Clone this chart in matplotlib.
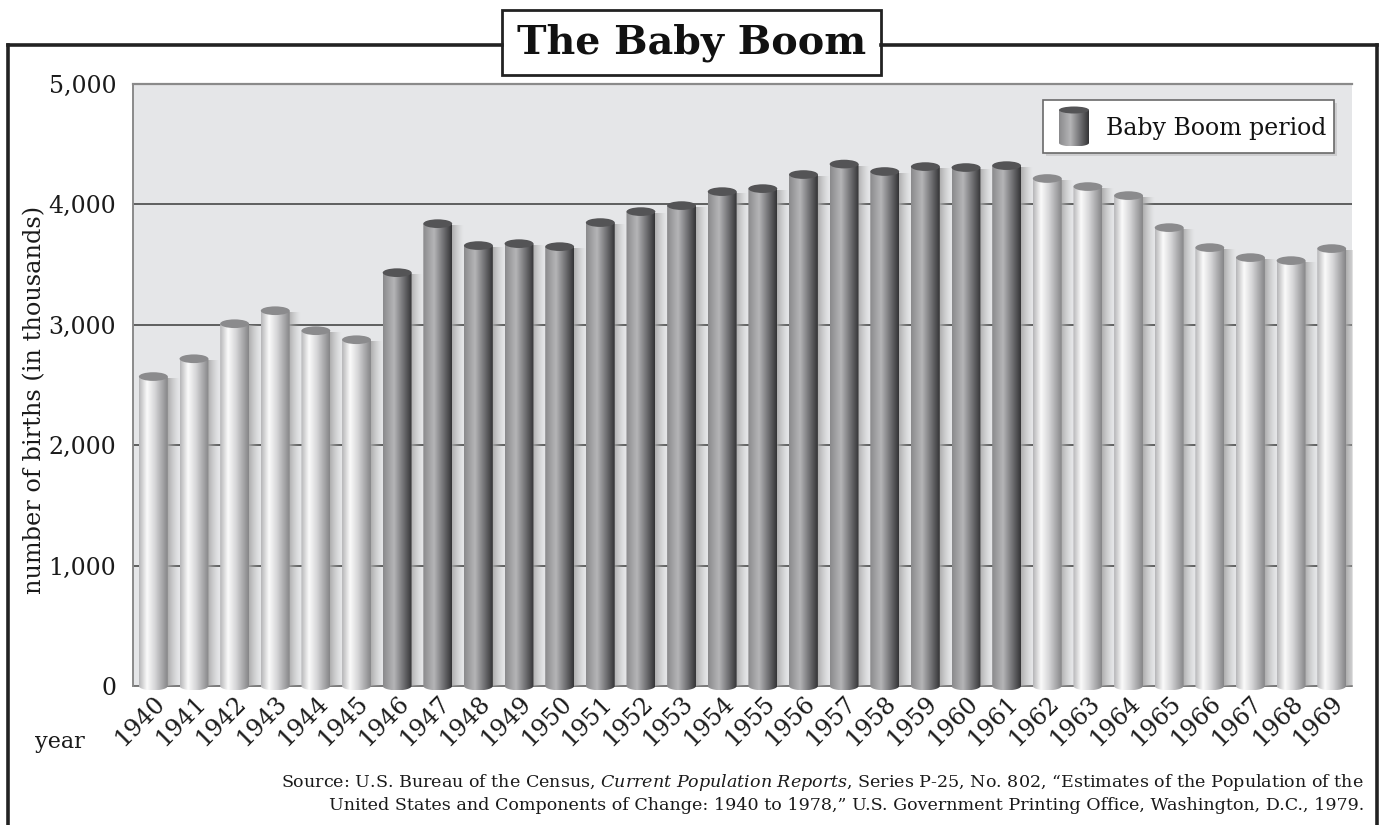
import numpy as np
import matplotlib
matplotlib.use("Agg")
import matplotlib.pyplot as plt
import matplotlib.transforms as mtransforms
from matplotlib.patches import Ellipse, Rectangle, PathPatch
from matplotlib.path import Path
from matplotlib.colors import LinearSegmentedColormap

# ---- data -------------------------------------------------------------
years = [1940, 1941, 1942, 1943, 1944, 1945, 1946, 1947, 1948, 1949,
         1950, 1951, 1952, 1953, 1954, 1955, 1956, 1957, 1958, 1959,
         1960, 1961, 1962, 1963, 1964, 1965, 1966, 1967, 1968, 1969]
births = [2570, 2718, 3009, 3117, 2951, 2876, 3433, 3840, 3658, 3674,
          3649, 3849, 3940, 3990, 4106, 4131, 4248, 4335, 4273, 4314,
          4306, 4322, 4215, 4148, 4073, 3807, 3641, 3558, 3533, 3633]
boom_first, boom_last = 1946, 1961
y_ticks = [0, 1000, 2000, 3000, 4000, 5000]
y_ticklabels = ["0", "1,000", "2,000", "3,000", "4,000", "5,000"]

title = "The Baby Boom"
legend_label = "Baby Boom period"
y_title = "number of births (in thousands)"
x_title = "year"
source_line1 = ("Source: U.S. Bureau of the Census, $\\mathit{Current\\ Population\\ Reports}$, "
                "Series P-25, No. 802, \u201cEstimates of the Population of the")
source_line2 = ("United States and Components of Change: 1940 to 1978,\u201d "
                "U.S. Government Printing Office, Washington, D.C., 1979.")

# ---- style ------------------------------------------------------------
SERIF = "DejaVu Serif"
plt.rcParams["font.family"] = [SERIF]
plt.rcParams["mathtext.fontset"] = "custom"
plt.rcParams["mathtext.rm"] = SERIF
plt.rcParams["mathtext.it"] = SERIF + ":italic"

W, H, DPI = 1380, 825, 100
fig = plt.figure(figsize=(W / DPI, H / DPI), dpi=DPI)
fig.patch.set_facecolor("white")

ax_l, ax_r, ax_t, ax_b = 133, 1352, 84, 686
ax = fig.add_axes([ax_l / W, 1 - ax_b / H, (ax_r - ax_l) / W, (ax_b - ax_t) / H])
ax.set_facecolor("#e5e6e8")

light_cmap = LinearSegmentedColormap.from_list(
    "light_cyl", [(0.0, "#b5b5b7"), (0.28, "#fbfbfb"), (0.55, "#d6d6d8"), (1.0, "#848486")])
dark_cmap = LinearSegmentedColormap.from_list(
    "dark_cyl", [(0.0, "#8a8a8c"), (0.38, "#b5b5b7"), (0.7, "#727275"), (1.0, "#333335")])

bar_w = 0.71
cap = 36.0          # half-height of the cylinder ends, in data units
grad = np.linspace(0, 1, 256)[None, :]

# shadow gradient (RGBA) cast to the right of each cylinder
shadow = np.zeros((1, 64, 4))
shadow[..., :3] = 0.66
shadow[0, :, 3] = np.linspace(1.0, 0.0, 64) ** 1.4

n = len(years)
xs = np.arange(n)
for i, (yr, val) in enumerate(zip(years, births)):
    boom = boom_first <= yr <= boom_last
    x0, x1 = xs[i] - bar_w / 2, xs[i] + bar_w / 2

    # soft shadow
    ax.imshow(shadow, extent=(x1 - 0.03, x1 + 0.28, 0, val - cap * 0.5),
              aspect="auto", origin="lower", zorder=2.5, interpolation="bilinear")

    # cylinder body with rounded base
    t = np.linspace(np.pi, 2 * np.pi, 40)
    verts = [(x0, val), (x0, 0)]
    verts += list(zip(xs[i] + (bar_w / 2) * np.cos(t), cap * np.sin(t)))
    verts += [(x1, val), (x0, val)]
    codes = [Path.MOVETO] + [Path.LINETO] * (len(verts) - 2) + [Path.CLOSEPOLY]
    clip = PathPatch(Path(verts, codes), transform=ax.transData)
    im = ax.imshow(grad, cmap=dark_cmap if boom else light_cmap,
                   extent=(x0, x1, -cap, val), aspect="auto", origin="lower",
                   zorder=3, interpolation="bilinear")
    im.set_clip_path(clip)
    im.set_clip_box(fig.bbox)

    # top cap
    ax.add_patch(Ellipse((xs[i], val), bar_w, 2 * cap,
                         facecolor="#545456" if boom else "#8b8b8d",
                         edgecolor="none", zorder=4))

ax.set_xlim(-0.5, n - 0.5)
ax.set_ylim(0, 5000)

# grid and frame of the plotting area
for v in y_ticks[1:-1]:
    ax.axhline(v, color="#3a3a3a", lw=1.1, zorder=1)
ax.spines["right"].set_visible(False)
ax.spines["top"].set_color("#8a8a8a")
ax.spines["top"].set_linewidth(1.6)
ax.spines["left"].set_color("#8a8a8a")
ax.spines["left"].set_linewidth(1.4)
ax.spines["bottom"].set_color("#555555")
ax.spines["bottom"].set_linewidth(1.1)
ax.spines["bottom"].set_zorder(2)

ax.set_yticks(y_ticks)
ax.set_yticklabels(y_ticklabels, fontsize=17, color="#1a1a1a")
ax.tick_params(axis="y", length=0, pad=12)
ax.set_xticks(xs)
ax.set_xticklabels([str(y) for y in years], fontsize=17, color="#1a1a1a")
ax.tick_params(axis="x", length=0, pad=10)
shift = mtransforms.ScaledTranslation(8 / DPI, 0, fig.dpi_scale_trans)
for lab in ax.get_xticklabels():
    lab.set_rotation(45)
    lab.set_ha("right")
    lab.set_va("center")
    lab.set_rotation_mode("anchor")
    lab.set_transform(lab.get_transform() + shift)
ax.set_ylabel(y_title, fontsize=17.3, color="#1a1a1a")
ax.yaxis.set_label_coords((46 - ax_l) / (ax_r - ax_l), (ax_b - 400) / (ax_b - ax_t))

# ---- overlay in pixel coordinates: frame, title, legend, notes ---------
ov = fig.add_axes([0, 0, 1, 1], zorder=5)
ov.set_xlim(0, W)
ov.set_ylim(H, 0)
ov.axis("off")
ov.patch.set_alpha(0)

frame_kw = dict(color="#222222", lw=2.6, solid_capstyle="projecting")
ov.plot([8, 8], [45, H + 5], **frame_kw)
ov.plot([8, 502], [45, 45], **frame_kw)
ov.plot([881, 1377], [45, 45], **frame_kw)
ov.plot([1377, 1377], [45, H + 5], **frame_kw)

ov.add_patch(Rectangle((502, 10), 379, 65, facecolor="white",
                       edgecolor="#222222", lw=2.0))
ov.text(691.5, 43, title, fontsize=28.5, fontweight="bold", ha="center",
        va="center", color="#111111")

# legend box with shadow
ov.add_patch(Rectangle((1046, 103), 291, 53, facecolor="#bdbdbf",
                       edgecolor="none", alpha=0.6))
ov.add_patch(Rectangle((1043, 100), 291, 53, facecolor="white",
                       edgecolor="#6a6a6a", lw=1.2))
lg_x0, lg_x1, lg_top, lg_bot = 1059, 1089, 110, 143
lg_cap = 3.5
lg_im = ov.imshow(grad, cmap=dark_cmap, extent=(lg_x0, lg_x1, lg_bot + lg_cap, lg_top),
                  aspect="auto", zorder=6, interpolation="bilinear")
t = np.linspace(0, np.pi, 30)
verts = [(lg_x0, lg_top), (lg_x0, lg_bot)]
verts += list(zip((lg_x0 + lg_x1) / 2 - (lg_x1 - lg_x0) / 2 * np.cos(t),
                  lg_bot + lg_cap * np.sin(t)))
verts += [(lg_x1, lg_top), (lg_x0, lg_top)]
codes = [Path.MOVETO] + [Path.LINETO] * (len(verts) - 2) + [Path.CLOSEPOLY]
lg_im.set_clip_path(PathPatch(Path(verts, codes), transform=ov.transData))
ov.add_patch(Ellipse(((lg_x0 + lg_x1) / 2, lg_top), lg_x1 - lg_x0, 2 * lg_cap,
                     facecolor="#545456", edgecolor="none", zorder=7))
ov.text(1106, 128, legend_label, fontsize=17, ha="left", va="center",
        color="#111111", zorder=7)

ov.text(35, 748, x_title, fontsize=16, ha="left", va="baseline", color="#1a1a1a")
ov.text(1364, 787, source_line1, fontsize=12.6, ha="right", va="baseline",
        color="#1a1a1a")
ov.text(1364, 810, source_line2, fontsize=12.6, ha="right", va="baseline",
        color="#1a1a1a")

fig.savefig("out.png", dpi=DPI, facecolor="white")
